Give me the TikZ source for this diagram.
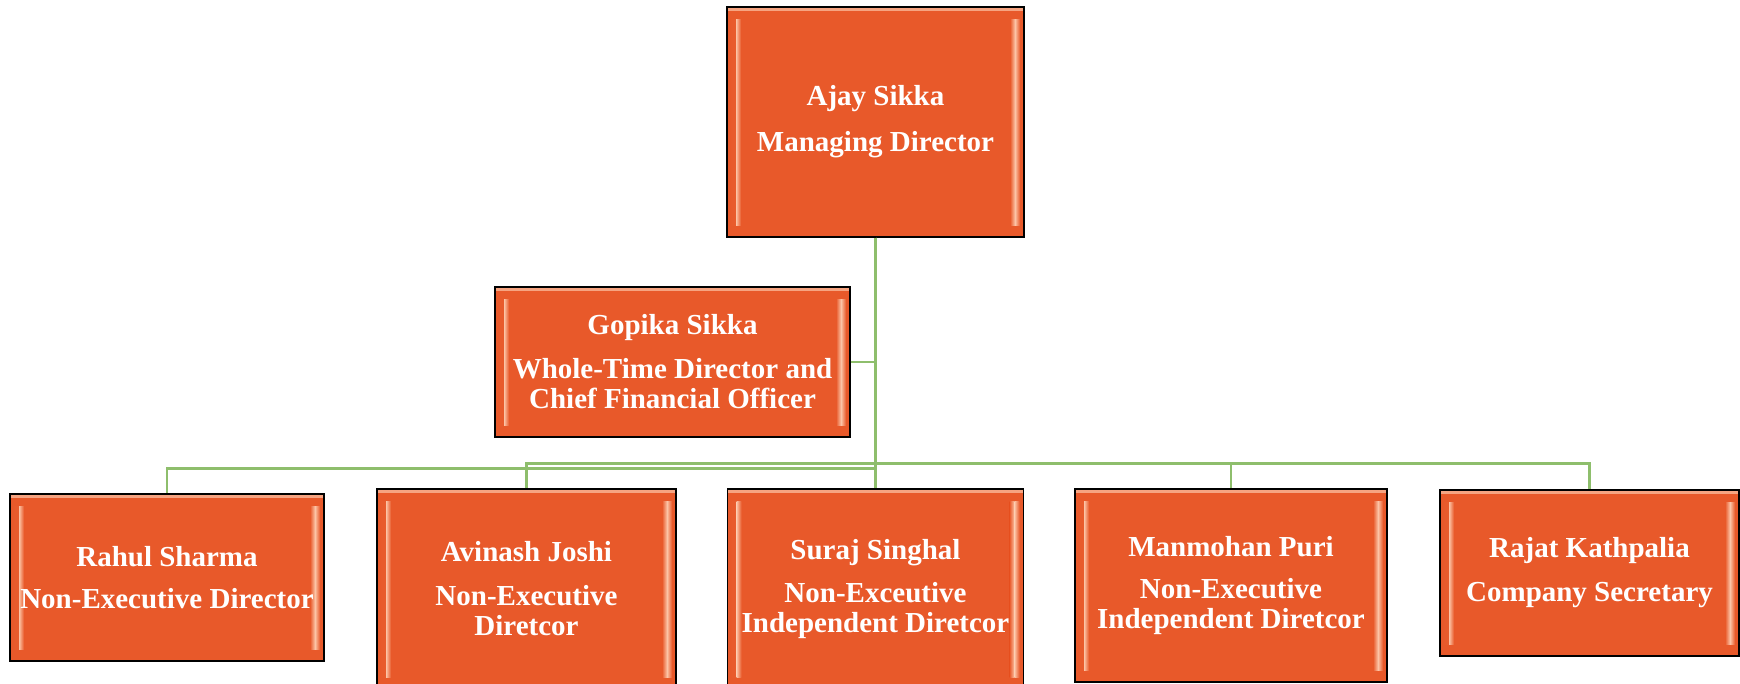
\documentclass[tikz,border=0pt]{standalone}
\usepackage{fontspec}
\setmainfont{Liberation Serif}
\definecolor{boxorange}{RGB}{232,89,42}
\definecolor{peach}{RGB}{252,196,166}
\definecolor{linegreen}{RGB}{142,190,108}
\begin{document}
\begin{tikzpicture}[x=1pt,y=-1pt,
  box/.style={draw=black, line width=1.4pt, fill=boxorange, inner sep=0pt,
    text=white, align=center, font=\fontsize{29pt}{30pt}\selectfont\bfseries,
    path picture={
      \shade[left color=boxorange, right color=peach]
        ([xshift=4pt,yshift=-12pt]path picture bounding box.north west) rectangle
        ([xshift=9pt,yshift=12pt]path picture bounding box.south west);
      \shade[left color=peach, right color=boxorange]
        ([xshift=9pt,yshift=-12pt]path picture bounding box.north west) rectangle
        ([xshift=14pt,yshift=12pt]path picture bounding box.south west);
      \shade[left color=boxorange, right color=peach]
        ([xshift=-14pt,yshift=-12pt]path picture bounding box.north east) rectangle
        ([xshift=-9pt,yshift=12pt]path picture bounding box.south east);
      \shade[left color=peach, right color=boxorange]
        ([xshift=-9pt,yshift=-12pt]path picture bounding box.north east) rectangle
        ([xshift=-4pt,yshift=12pt]path picture bounding box.south east);
      \fill[peach!70!boxorange]
        ([yshift=-1pt]path picture bounding box.north west) rectangle
        ([yshift=-4pt]path picture bounding box.north east);
    }},
  conn/.style={draw=linegreen, line width=2.8pt}]
\useasboundingbox (0,0) rectangle (1740,683);

\node[box, minimum width=297pt, minimum height=230pt] (ajay) at (875.5,122)
  {Ajay Sikka\\[16pt]Managing Director};
\node[box, minimum width=355pt, minimum height=150pt] (gopika) at (672.5,362)
  {Gopika Sikka\\[14pt]Whole-Time Director and\\Chief Financial Officer};
\node[box, minimum width=314pt, minimum height=167pt] (rahul) at (167,577.5)
  {Rahul Sharma\\[12pt]Non-Executive Director};
\node[box, minimum width=299pt, minimum height=200pt] (avinash) at (526.5,589)
  {Avinash Joshi\\[14pt]Non-Executive\\Diretcor};
\node[box, minimum width=296pt, minimum height=200pt] (suraj) at (875.5,589)
  {Suraj Singhal\\[13pt]Non-Exceutive\\Independent Diretcor};
\node[box, minimum width=312pt, minimum height=193pt] (manmohan) at (1231,585.5)
  {Manmohan Puri\\[12pt]Non-Executive\\Independent Diretcor};
\node[box, minimum width=299pt, minimum height=166pt] (rajat) at (1589.5,573)
  {Rajat Kathpalia\\[14pt]Company Secretary};

\draw[conn] (gopika.east) -- (gopika.east -| ajay.south);
\draw[conn] (ajay.south) -- ++(0,231) -| (rahul.north);
\draw[conn] (ajay.south) -- ++(0,226) -| (avinash.north);
\draw[conn] (ajay.south) -- (suraj.north);
\draw[conn] (ajay.south) -- ++(0,226) -| (manmohan.north);
\draw[conn] (ajay.south) -- ++(0,226) -| (rajat.north);
\end{tikzpicture}
\end{document}
